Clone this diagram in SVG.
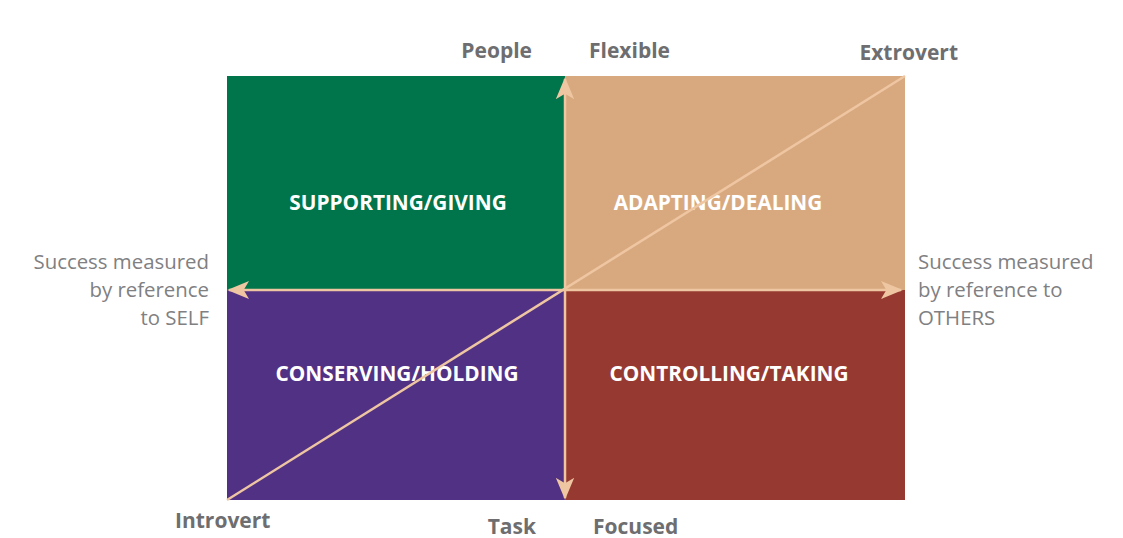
<svg xmlns="http://www.w3.org/2000/svg" width="1123" height="538" viewBox="0 0 1123 538">
<style>
.ax{font-family:"Open Sans","Liberation Sans",sans-serif;font-weight:bold;font-size:21px;fill:#6e6e70}
.q{font-family:"Open Sans","Liberation Sans",sans-serif;font-weight:bold;font-size:20.8px;fill:#ffffff;text-anchor:middle}
.sd{font-family:"Open Sans","Liberation Sans",sans-serif;font-size:20.4px;fill:#808082}
.ln{stroke:#efc6a2;stroke-width:2.5;fill:none}
</style>
<defs>
<marker id="ah2" viewBox="0 0 24 24" refX="22" refY="12" markerWidth="22" markerHeight="22" markerUnits="userSpaceOnUse" orient="auto">
<path d="M0,2 L24,12 L0,22 L6,12 Z" fill="#efc6a2"/>
</marker>
</defs>
<rect width="1123" height="538" fill="#ffffff"/>
<g id="supporting">
<rect x="227" y="76" width="338" height="214" fill="#00744a"/>
<text class="q" x="398" y="210">SUPPORTING/GIVING</text>
</g>
<g id="adapting">
<rect x="565" y="76" width="340" height="214" fill="#d8a97f"/>
<text class="q" x="718" y="210">ADAPTING/DEALING</text>
</g>
<g id="conserving">
<rect x="227" y="290" width="338" height="210" fill="#513184"/>
<text class="q" x="397" y="381">CONSERVING/HOLDING</text>
</g>
<g id="controlling">
<rect x="565" y="290" width="340" height="210" fill="#963a31"/>
<text class="q" x="729" y="381">CONTROLLING/TAKING</text>
</g>
<g id="connectors">
<line class="ln" x1="227" y1="500" x2="905" y2="76" stroke-width="1.5"/>
<line class="ln" x1="565" y1="290" x2="229" y2="290" marker-end="url(#ah2)"/>
<line class="ln" x1="565" y1="290" x2="901" y2="290" marker-end="url(#ah2)"/>
<line class="ln" x1="565" y1="290" x2="565" y2="79" marker-end="url(#ah2)"/>
<line class="ln" x1="565" y1="290" x2="565" y2="498" marker-end="url(#ah2)"/>
</g>
<g id="labels">
<text class="ax" x="532" y="58" text-anchor="end">People</text>
<text class="ax" x="589" y="58">Flexible</text>
<text class="ax" x="958" y="60" text-anchor="end">Extrovert</text>
<text class="ax" x="175" y="528">Introvert</text>
<text class="ax" x="536" y="534" text-anchor="end">Task</text>
<text class="ax" x="593" y="534">Focused</text>
<text class="sd" x="209" y="269" text-anchor="end">Success measured</text>
<text class="sd" x="209" y="297" text-anchor="end">by reference</text>
<text class="sd" x="209" y="325" text-anchor="end">to SELF</text>
<text class="sd" x="918" y="269">Success measured</text>
<text class="sd" x="918" y="297">by reference to</text>
<text class="sd" x="918" y="325">OTHERS</text>
</g>
</svg>
